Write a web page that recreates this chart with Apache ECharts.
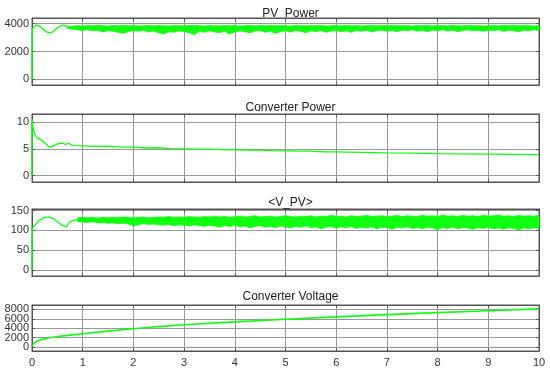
<!DOCTYPE html>
<html><head><meta charset="utf-8">
<script src="https://cdn.jsdelivr.net/npm/echarts@6/dist/echarts.min.js"></script>
<style>html,body{margin:0;padding:0;background:#fff}#c{width:550px;height:372px}</style>
</head><body><div id="c"></div>
<script>
// ---------- data ----------
const titles = ['PV  Power', 'Converter Power', '<V_PV>', 'Converter Voltage'];
const xTicks = [0,1,2,3,4,5,6,7,8,9,10];

// PV power: initial transient
const pvT0 = [0, 0.005, 0.03, 0.09, 0.15, 0.22, 0.3, 0.36, 0.42, 0.5, 0.59, 0.65, 0.7];
const pvV0 = [0, 3500, 3780, 3880, 3820, 3600, 3380, 3330, 3420, 3700, 3880, 3850, 3780];
// PV power: noisy band envelope, sampled every 0.1 s from 0.7 s to 10 s
const pvBandStart = 0.7, pvBandStep = 0.1;
const pvLow = [3650,3600,3550,3500,3560,3480,3520,3400,3500,3450,3380,3300,3420,3500,3450,3520,3400,3460,3350,3250,
  3420,3380,3480,3420,3350,3200,3450,3380,3480,3400,3350,3450,3250,3400,3480,3420,3350,3460,3500,3380,
  3450,3300,3420,3480,3400,3500,3450,3350,3480,3420,3500,3380,3460,3500,3420,3480,3380,3500,3450,3520,
  3400,3480,3530,3450,3500,3420,3520,3480,3550,3450,3500,3430,3520,3480,3550,3460,3520,3420,3500,3550,
  3470,3520,3450,3530,3480,3550,3440,3520,3480,3420,3530,3490,3550,3500];
const pvHigh = [3800,3820,3850,3830,3860,3840,3870,3850,3830,3860,3850,3880,3840,3860,3830,3850,3870,3840,3860,3850,
  3830,3870,3850,3840,3860,3880,3850,3830,3860,3850,3840,3870,3850,3860,3830,3850,3870,3840,3860,3850,
  3880,3840,3860,3850,3830,3870,3850,3840,3860,3850,3870,3830,3850,3860,3840,3870,3850,3860,3830,3850,
  3870,3840,3860,3850,3880,3840,3860,3850,3830,3870,3850,3860,3840,3850,3870,3830,3860,3850,3840,3870,
  3850,3860,3830,3850,3870,3840,3860,3850,3880,3840,3860,3850,3830,3850];

// Converter power
const cpT = [0, 0.001, 0.02, 0.05, 0.1, 0.15, 0.2, 0.27, 0.33, 0.37, 0.45, 0.55, 0.62, 0.66, 0.72, 0.78, 0.85,
  1.0, 1.25, 1.5, 1.75, 2.0, 2.25, 2.5, 2.75, 3.0, 3.25, 3.5, 3.75, 4.0, 4.25, 4.5, 4.75, 5.0, 5.25, 5.5, 5.75,
  6.0, 6.5, 7.0, 7.5, 8.0, 8.5, 9.0, 9.5, 10.0];
const cpV = [0, 10.5, 9.0, 7.8, 7.0, 6.8, 6.5, 6.0, 5.4, 5.3, 5.7, 6.05, 6.0, 5.8, 6.05, 5.7, 5.6,
  5.55, 5.45, 5.5, 5.3, 5.3, 5.15, 5.2, 5.05, 5.0, 4.95, 4.95, 4.85, 4.82, 4.75, 4.75, 4.65, 4.62, 4.55, 4.55, 4.45,
  4.42, 4.35, 4.25, 4.2, 4.1, 4.05, 4.0, 3.95, 3.9];

// <V_PV>: initial transient
const vT0 = [0, 0.005, 0.05, 0.15, 0.25, 0.33, 0.42, 0.5, 0.6, 0.68, 0.72, 0.78, 0.85, 0.9];
const vV0 = [0, 105, 112, 126, 133, 134, 130, 122, 113, 109, 118, 124, 126, 127];
// <V_PV>: noisy band envelope, every 0.1 s from 0.9 s to 10 s
const vBandStart = 0.9, vBandStep = 0.1;
const vLow = [122,121,120,122,119,120,118,119,117,118,116,112,114,117,115,116,114,113,115,112,
  114,113,111,114,112,110,113,111,108,112,110,113,109,111,106,110,112,108,110,107,
  111,109,106,110,108,111,107,109,104,108,110,106,109,107,110,105,108,106,109,104,
  108,107,103,108,106,109,105,107,104,108,106,102,107,105,108,104,107,106,103,107,
  105,108,104,106,103,107,105,101,106,104,107,105];
const vHigh = [132,133,132,133,131,133,132,133,132,134,133,132,133,134,132,133,134,133,135,133,
  134,133,135,134,133,135,134,136,134,135,133,135,136,134,135,137,134,135,136,134,
  135,137,135,134,136,135,137,134,136,135,138,135,136,134,137,135,136,138,135,136,
  137,135,136,138,135,137,136,135,138,136,137,135,139,136,137,135,138,136,137,135,
  138,136,137,139,136,137,135,138,136,137,136,138];

// Converter voltage
const cvT = [0, 0.02, 0.05, 0.1, 0.2, 0.35, 0.5, 0.75, 1, 1.5, 2, 2.5, 3, 4, 5, 6, 7, 8, 9, 10];
const cvV = [300, 700, 950, 1250, 1650, 2000, 2250, 2550, 2850, 3400, 3900, 4350, 4750, 5350, 5900, 6400, 6880, 7300, 7680, 8080];

// axis ranges (left/right identical)
const yRanges = [[-400, 4400], [-1.2, 11.5], [-15, 154], [-800, 8900]];
const ySplit = [3, 3, 4, 5];

// ---------- build ----------
const green = '#11ff11';
const fontFam = 'Liberation Sans, Arial, Helvetica, sans-serif';
const grids = [
  {left: 32, top: 18, width: 507, height: 67},
  {left: 32, top: 114, width: 507, height: 68},
  {left: 32, top: 209, width: 507, height: 67},
  {left: 32, top: 305, width: 507, height: 46}
];
const titleTops = [3, 97, 192, 286];

const pairs = (t, v) => t.map((x, i) => [x, v[i]]);
const bandT = (start, step, n) => Array.from({length: n}, (_, i) => +(start + i * step).toFixed(4));

const xAxis = [], yAxis = [], series = [];
grids.forEach((g, i) => {
  xAxis.push({
    type: 'value', gridIndex: i, min: 0, max: 10, interval: 1, position: 'bottom',
    axisLine: {show: true, onZero: false, lineStyle: {color: '#555', width: 1}},
    axisTick: {show: true, inside: true, length: 3, lineStyle: {color: '#555'}},
    axisLabel: {show: i === 3, color: '#333', fontSize: 11, fontFamily: fontFam, margin: 6},
    splitLine: {show: true, lineStyle: {color: '#999', width: 1}}
  });
  xAxis.push({
    type: 'value', gridIndex: i, min: 0, max: 10, interval: 1, position: 'top',
    axisLine: {show: true, onZero: false, lineStyle: {color: '#555', width: 1}},
    axisTick: {show: true, inside: true, length: 3, lineStyle: {color: '#555'}},
    axisLabel: {show: false}, splitLine: {show: false}
  });
  const r = yRanges[i];
  yAxis.push({
    type: 'value', gridIndex: i, min: r[0], max: r[1], splitNumber: ySplit[i], position: 'left',
    axisLine: {show: true, onZero: false, lineStyle: {color: '#555', width: 1}},
    axisTick: {show: true, inside: true, length: 3, lineStyle: {color: '#555'}},
    axisLabel: {show: true, color: '#333', fontSize: 11, fontFamily: fontFam, margin: 3,
      showMinLabel: false, showMaxLabel: false, formatter: v => String(v)},
    splitLine: {show: true, showMinLine: false, showMaxLine: false, lineStyle: {color: '#999', width: 1}}
  });
  yAxis.push({
    type: 'value', gridIndex: i, min: r[0], max: r[1], splitNumber: ySplit[i], position: 'right',
    axisLine: {show: true, onZero: false, lineStyle: {color: '#555', width: 1}},
    axisTick: {show: true, inside: true, length: 3, lineStyle: {color: '#555'}},
    axisLabel: {show: false}, splitLine: {show: false}
  });
});

const lineBase = (i) => ({type: 'line', xAxisIndex: i * 2, yAxisIndex: i * 2, showSymbol: false,
  symbol: 'none', animation: false, lineStyle: {color: green, width: 1.3}, itemStyle: {color: green}, z: 3});

// band drawn as one polygon through the axes' coordinate mapping
function bandSeries(i, t, low, high) {
  return {
    type: 'custom', xAxisIndex: i * 2, yAxisIndex: i * 2, z: 3, animation: false, silent: true,
    data: t.map((x, k) => [x, low[k], high[k]]),
    encode: {x: 0, y: [1, 2]},
    renderItem: function (params, api) {
      if (params.dataIndex !== 0) return null;
      const pts = [];
      for (let k = 0; k < t.length; k++) pts.push(api.coord([t[k], high[k]]));
      for (let k = t.length - 1; k >= 0; k--) pts.push(api.coord([t[k], low[k]]));
      return {type: 'polygon', shape: {points: pts},
        style: {fill: green, stroke: green, lineWidth: 0.8}};
    }
  };
}

// panel 1
series.push(Object.assign(lineBase(0), {data: pairs(pvT0, pvV0)}));
series.push(bandSeries(0, bandT(pvBandStart, pvBandStep, pvLow.length), pvLow, pvHigh));
// panel 2
series.push(Object.assign(lineBase(1), {data: pairs(cpT, cpV)}));
// panel 3
series.push(Object.assign(lineBase(2), {data: pairs(vT0, vV0)}));
series.push(bandSeries(2, bandT(vBandStart, vBandStep, vLow.length), vLow, vHigh));
// panel 4
series.push(Object.assign(lineBase(3), {data: pairs(cvT, cvV), lineStyle: {color: green, width: 1.6}}));

const option = {
  animation: false,
  backgroundColor: '#fff',
  title: titles.map((t, i) => ({text: t, left: 285.5, top: titleTops[i], textAlign: 'center',
    textStyle: {fontSize: 12, fontWeight: 'normal', color: '#222', fontFamily: fontFam}})),
  grid: grids.map(g => Object.assign({show: true, borderColor: '#555', borderWidth: 1, backgroundColor: 'transparent'}, g)),
  xAxis, yAxis, series
};
const chart = echarts.init(document.getElementById('c'), null, {renderer: 'canvas'});
chart.setOption(option);
</script></body></html>
